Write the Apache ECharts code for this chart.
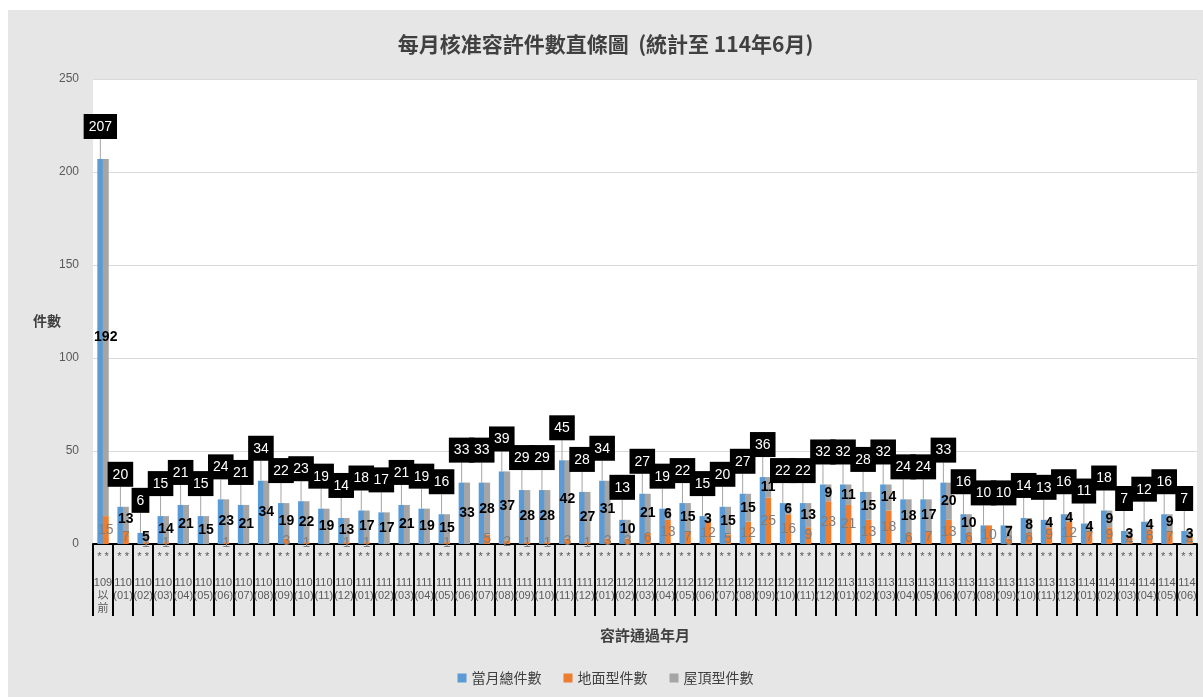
<!DOCTYPE html>
<html>
<head>
<meta charset="utf-8">
<script src="https://cdn.jsdelivr.net/npm/echarts@6/dist/echarts.min.js"></script>
<style>
  html, body { margin: 0; padding: 0; background: #fff; }
  #chart { position: absolute; left: 8px; top: 10px; width: 1195px; height: 687px; }
</style>
</head>
<body>
<div id="chart"></div>
<script>
const categories = [
  '109以前',
  '110(01)', '110(02)', '110(03)', '110(04)', '110(05)', '110(06)', '110(07)', '110(08)', '110(09)', '110(10)', '110(11)', '110(12)',
  '111(01)', '111(02)', '111(03)', '111(04)', '111(05)', '111(06)', '111(07)', '111(08)', '111(09)', '111(10)', '111(11)', '111(12)',
  '112(01)', '112(02)', '112(03)', '112(04)', '112(05)', '112(06)', '112(07)', '112(08)', '112(09)', '112(10)', '112(11)', '112(12)',
  '113(01)', '113(02)', '113(03)', '113(04)', '113(05)', '113(06)', '113(07)', '113(08)', '113(09)', '113(10)', '113(11)', '113(12)',
  '114(01)', '114(02)', '114(03)', '114(04)', '114(05)', '114(06)'
]
// 當月總件數
const totalData = [
  207,
  20, 6, 15, 21, 15, 24, 21, 34, 22, 23, 19, 14,
  18, 17, 21, 19, 16, 33, 33, 39, 29, 29, 45, 28,
  34, 13, 27, 19, 22, 15, 20, 27, 36, 22, 22, 32,
  32, 28, 32, 24, 24, 33, 16, 10, 10, 14, 13, 16,
  11, 18, 7, 12, 16, 7
]
// 地面型件數
const groundData = [
  15,
  7, 1, 1, 0, 0, 1, 0, 0, 3, 1, 0, 1,
  1, 0, 0, 0, 1, 0, 5, 2, 1, 1, 3, 1,
  3, 3, 6, 13, 7, 12, 5, 12, 25, 16, 9, 23,
  21, 13, 18, 6, 7, 13, 6, 10, 3, 6, 9, 12,
  7, 9, 4, 8, 7, 4
]
// 屋頂型件數
const roofData = [
  192,
  13, 5, 14, 21, 15, 23, 21, 34, 19, 22, 19, 13,
  17, 17, 21, 19, 15, 33, 28, 37, 28, 28, 42, 27,
  31, 10, 21, 6, 15, 3, 15, 15, 11, 6, 13, 9,
  11, 15, 14, 18, 17, 20, 10, 0, 7, 8, 4, 4,
  4, 9, 3, 4, 9, 3
]
const yTicks = [0, 50, 100, 150, 200, 250]

const numFont = '"Liberation Sans", "Noto Sans CJK TC", sans-serif'
const cjkFont = '"Noto Sans CJK TC", sans-serif'

const chart = echarts.init(document.getElementById('chart'))
chart.setOption({
  backgroundColor: '#e6e6e6',
  title: {
    text: '每月核准容許件數直條圖  (統計至 114年6月)',
    left: 'center',
    top: 19,
    textStyle: { fontFamily: cjkFont, fontSize: 21, fontWeight: 'bold', color: '#404040' },
  },
  legend: {
    bottom: 7,
    left: 'center',
    icon: 'rect',
    itemWidth: 9,
    itemHeight: 9,
    itemGap: 22,
    textStyle: { fontFamily: cjkFont, fontSize: 14, color: '#404040' },
    data: ['當月總件數', '地面型件數', '屋頂型件數'],
  },
  graphic: [
    {
      type: 'text',
      left: 25,
      top: 304,
      style: { text: '件數', font: 'bold 14px "Noto Sans CJK TC", sans-serif', fill: '#404040' },
    },
  ],
  grid: {
    left: 85,
    right: 6,
    top: 69,
    bottom: 153,
    show: true,
    backgroundColor: '#ffffff',
    borderWidth: 0,
  },
  xAxis: {
    type: 'category',
    data: categories,
    name: '容許通過年月',
    nameLocation: 'middle',
    nameGap: 84,
    nameTextStyle: { fontFamily: cjkFont, fontSize: 15, fontWeight: 'bold', color: '#404040' },
    axisLine: { lineStyle: { color: '#000', width: 2 } },
    axisTick: { show: true, interval: 0, length: 72, lineStyle: { color: '#000', width: 2 } },
    axisLabel: {
      interval: 0,
      margin: 6,
      fontFamily: numFont,
      fontSize: 11,
      lineHeight: 13,
      color: '#595959',
      formatter(v) {
        if (v === '109以前') return '* *\n\n109\n以\n前'
        return '* *\n\n' + v.slice(0, 3) + '\n' + v.slice(3)
      },
    },
  },
  yAxis: {
    type: 'value',
    min: 0,
    max: yTicks[yTicks.length - 1],
    interval: 50,
    axisLine: { show: false },
    axisTick: { show: false },
    axisLabel: { margin: 14, fontFamily: numFont, fontSize: 12, color: '#595959' },
    splitLine: { lineStyle: { color: '#d9d9d9', width: 1 } },
  },
  series: [
    {
      name: '當月總件數',
      type: 'bar',
      barWidth: 6,
      barGap: '-10%',
      itemStyle: { color: '#5b9bd5' },
      data: totalData,
      label: {
        show: true,
        position: 'top',
        fontFamily: numFont,
        fontSize: 14,
        color: '#ffffff',
        backgroundColor: '#000000',
        padding: [6, 5, 5, 5],
      },
      labelLayout: { dy: -15 },
      labelLine: { show: true, lineStyle: { color: '#a5a5a5', width: 1 } },
      z: 2,
    },
    {
      name: '地面型件數',
      type: 'bar',
      stack: 'type',
      barWidth: 6,
      itemStyle: { color: '#ed7d31' },
      data: groundData,
      label: {
        show: true,
        position: 'inside',
        fontFamily: numFont,
        fontSize: 14,
        color: '#7f7f7f',
        formatter: (p) => (p.value ? p.value : ''),
      },
    },
    {
      name: '屋頂型件數',
      type: 'bar',
      stack: 'type',
      barWidth: 6,
      itemStyle: { color: '#a5a5a5' },
      data: roofData,
      label: {
        show: true,
        position: 'inside',
        fontFamily: numFont,
        fontSize: 14,
        fontWeight: 'bold',
        color: '#000000',
        formatter: (p) => (p.value ? p.value : ''),
      },
    },
  ],
})
</script>
</body>
</html>
